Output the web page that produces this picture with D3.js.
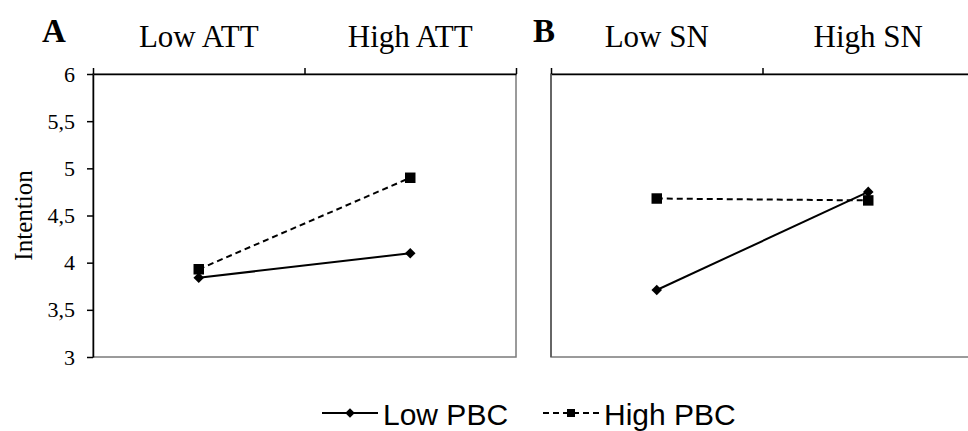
<!DOCTYPE html>
<html>
<head>
<meta charset="utf-8">
<script src="https://cdn.jsdelivr.net/npm/d3@7"></script>
<style>
	body { margin: 0; background: #fff; }
	svg { display: block; }
</style>
</head>
<body>
<div id="chart-area"></div>
<script>
// Categories on the top axis of each panel
let attLevels = ["Low ATT", "High ATT"];
let snLevels = ["Low SN", "High SN"];

// Series values (Intention)
let lowPbcAtt = [3.84, 4.10];
let highPbcAtt = [3.93, 4.90];
let lowPbcSn = [3.71, 4.75];
let highPbcSn = [4.68, 4.66];

// Y axis ticks
let yTicks = [3, 3.5, 4, 4.5, 5, 5.5, 6];

let legendLabels = ["Low PBC", "High PBC"];

let width = 968, height = 431;
let serif = "'Liberation Serif', 'Times New Roman', serif";
let sans = "'Liberation Sans', Arial, sans-serif";

let svg = d3.select("#chart-area")
	.append("svg")
	.attr("width", width)
	.attr("height", height);

// Shared y scale
let yScale = d3.scaleLinear()
	.domain([3, 6])
	.range([357, 74]);

let commaFormat = d => String(d).replace(".", ",");

// Draw one panel
function drawPanel(letter, letterX, levels, lowVals, highVals, left, showY) {
	let right = left + 423;

	let g = svg.append("g").attr("class", "panel-" + letter);

	let xScale = d3.scalePoint()
		.domain(levels)
		.range([left, right])
		.padding(0.5);

	// Plot area border (grey right and bottom)
	g.append("rect")
		.attr("x", left)
		.attr("y", yScale(6))
		.attr("width", right - left)
		.attr("height", yScale(3) - yScale(6))
		.attr("fill", "none")
		.attr("stroke", "#7a7a7a")
		.attr("stroke-width", 1.5);

	// Top axis with ticks at category boundaries
	let edgeScale = d3.scaleLinear().domain([0, levels.length]).range([left, right]);
	let topAxis = d3.axisTop(edgeScale)
		.tickValues(d3.range(levels.length + 1))
		.tickSize(6)
		.tickSizeOuter(0)
		.tickFormat("");
	g.append("g")
		.attr("class", "axis top-axis")
		.attr("transform", "translate(0," + yScale(6) + ")")
		.call(topAxis)
		.call(a => a.selectAll("line, path").attr("stroke", "#000").attr("stroke-width", 1.5));

	// Category labels above
	g.selectAll("text.cat-label")
		.data(levels)
		.enter()
		.append("text")
		.attr("class", "cat-label")
		.attr("x", d => xScale(d))
		.attr("y", 47)
		.attr("text-anchor", "middle")
		.style("font-family", serif)
		.style("font-size", "31px")
		.text(d => d);

	// Panel letter
	g.append("text")
		.attr("x", letterX)
		.attr("y", 42)
		.style("font-family", serif)
		.style("font-weight", "bold")
		.style("font-size", "33px")
		.text(letter);

	// Left axis
	if (showY) {
		let yAxis = d3.axisLeft(yScale)
			.tickValues(yTicks)
			.tickSize(6)
			.tickSizeOuter(0)
			.tickFormat(commaFormat);
		g.append("g")
			.attr("class", "axis y-axis")
			.attr("transform", "translate(" + left + ",0)")
			.call(yAxis)
			.call(a => a.selectAll("line, path").attr("stroke", "#000").attr("stroke-width", 1.5))
			.call(a => a.selectAll("text")
				.style("font-family", serif)
				.style("font-size", "22px")
				.attr("fill", "#000")
				.attr("x", -18));
	} else {
		g.append("line")
			.attr("x1", left).attr("x2", left)
			.attr("y1", yScale(6)).attr("y2", yScale(3))
			.attr("stroke", "#555")
			.attr("stroke-width", 1.5);
	}

	let lineGen = d3.line()
		.x((d, i) => xScale(levels[i]))
		.y(d => yScale(d));

	// High PBC dashed line
	g.append("path")
		.datum(highVals)
		.attr("d", lineGen)
		.attr("fill", "none")
		.attr("stroke", "#000")
		.attr("stroke-width", 2)
		.attr("stroke-dasharray", "6,4");

	// Low PBC solid line
	g.append("path")
		.datum(lowVals)
		.attr("d", lineGen)
		.attr("fill", "none")
		.attr("stroke", "#000")
		.attr("stroke-width", 2);

	g.selectAll("path.sq")
		.data(highVals)
		.enter()
		.append("path")
		.attr("class", "sq")
		.attr("d", d3.symbol(d3.symbolSquare, 110))
		.attr("transform", (d, i) => "translate(" + xScale(levels[i]) + "," + yScale(d) + ")")
		.attr("fill", "#000");

	g.selectAll("path.dia")
		.data(lowVals)
		.enter()
		.append("path")
		.attr("class", "dia")
		.attr("d", d3.symbol(d3.symbolSquare, 56))
		.attr("transform", (d, i) => "translate(" + xScale(levels[i]) + "," + yScale(d) + ") rotate(45)")
		.attr("fill", "#000");
}

drawPanel("A", 42, attLevels, lowPbcAtt, highPbcAtt, 93, true);
drawPanel("B", 533, snLevels, lowPbcSn, highPbcSn, 551, false);

// Y axis title
svg.append("text")
	.attr("transform", "translate(32," + yScale(4.5) + ") rotate(-90)")
	.attr("text-anchor", "middle")
	.style("font-family", serif)
	.style("font-size", "25px")
	.text("Intention");

// Legend
let legend = svg.append("g").attr("class", "legend");
let legendX = [322, 543];
let legendY = 413;

legend.selectAll("line.leg-line")
	.data(legendLabels)
	.enter()
	.append("line")
	.attr("class", "leg-line")
	.attr("x1", (d, i) => legendX[i])
	.attr("x2", (d, i) => legendX[i] + 56)
	.attr("y1", legendY)
	.attr("y2", legendY)
	.attr("stroke", "#000")
	.attr("stroke-width", 2)
	.attr("stroke-dasharray", (d, i) => i === 1 ? "6,4" : null);

legend.append("path")
	.attr("d", d3.symbol(d3.symbolSquare, 45))
	.attr("transform", "translate(" + (legendX[0] + 28) + "," + legendY + ") rotate(45)")
	.attr("fill", "#000");

legend.append("path")
	.attr("d", d3.symbol(d3.symbolSquare, 64))
	.attr("transform", "translate(" + (legendX[1] + 28) + "," + legendY + ")")
	.attr("fill", "#000");

legend.selectAll("text.leg-text")
	.data(legendLabels)
	.enter()
	.append("text")
	.attr("class", "leg-text")
	.attr("x", (d, i) => legendX[i] + 61)
	.attr("y", legendY + 12)
	.style("font-family", sans)
	.style("font-size", "30px")
	.text(d => d);
</script>
</body>
</html>
